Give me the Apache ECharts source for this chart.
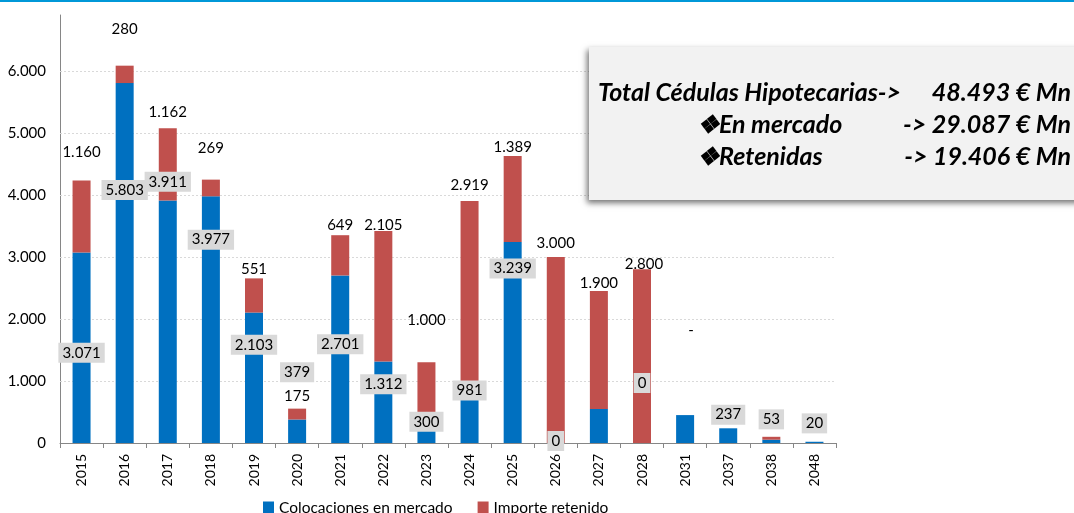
<!DOCTYPE html>
<html>
<head>
<meta charset="utf-8">
<script src="https://cdn.jsdelivr.net/npm/echarts@6/dist/echarts.min.js"></script>
<style>
  html, body { margin: 0; padding: 0; background: #fff; }
  #chart { width: 1074px; height: 513px; }
</style>
</head>
<body>
<div id="chart"></div>
<script>
  // datos (millones de euros)
  var years = ['2015', '2016', '2017', '2018', '2019', '2020', '2021', '2022', '2023', '2024', '2025', '2026', '2027', '2028', '2031', '2037', '2038', '2048']
  var mercado = [3071, 5803, 3911, 3977, 2103, 379, 2701, 1312, 300, 981, 3239, 0, 550, 0, 450, 237, 53, 20]
  var retenido = [1160, 280, 1162, 269, 551, 175, 649, 2105, 1000, 2919, 1389, 3000, 1900, 2800, 0, null, 47, null]
  var yTicks = [1000, 2000, 3000, 4000, 5000, 6000]
  var seriesNames = ['Colocaciones en mercado', 'Importe retenido']
  var boxLines = [
    ['Total Cédulas Hipotecarias->', '48.493 € Mn'],
    ['❖En mercado', '-> 29.087 € Mn'],
    ['❖Retenidas', '-> 19.406 € Mn']
  ]

  // desplazamiento de las etiquetas (como en el original, movidas a mano); null = etiqueta oculta
  var mercadoLabelShift = [[0, 5], [0, -73], [0, -140], [0, -80], [0, -33], [0, -59], [0, -15], [0, -18], [0, -12], [0, -22], [0, -74], [0, -2], null, [0, -60], null, [0, -21], [0, -22], [0, -19]]
  var retenidoLabelShift = [[0, -20], [0, -29], [0, -8], [0, -23], [0, -1], [0, -4], [0, -2], [0, 2], [0, -34], [0, -8], [0, -1], [0, -6], [0, 0], [2, 3], [6, -77], null, null, null]

  var FONT = 'Lato, "Noto Sans", sans-serif'

  function miles (v) {
    return String(v).replace(/\B(?=(\d{3})+(?!\d))/g, '.')
  }

  function buildData (values, shifts) {
    var out = []
    for (var i = 0; i < values.length; i++) {
      var shift = shifts[i]
      out.push({
        value: values[i],
        label: shift ? { show: true, offset: shift } : { show: false }
      })
    }
    return out
  }

  var gridLines = []
  for (var t = 0; t < yTicks.length; t++) {
    gridLines.push({ yAxis: yTicks[t] })
  }

  var chart = echarts.init(document.getElementById('chart'), null, { renderer: 'canvas' })

  var graphics = [
    { type: 'rect', shape: { x: 0, y: 0, width: 1074, height: 2 }, style: { fill: '#0098d8' }, z: 100 },
    {
      type: 'rect',
      shape: { x: 589, y: 47, width: 500, height: 153 },
      style: { fill: '#f2f2f2', shadowColor: 'rgba(0,0,0,0.55)', shadowBlur: 6, shadowOffsetX: -2, shadowOffsetY: 3 },
      z: 100
    }
  ]
  var lineY = [93, 125, 157]
  var leftX = [598, 697, 697]
  for (var k = 0; k < boxLines.length; k++) {
    graphics.push({
      type: 'text', z: 101,
      style: { text: boxLines[k][0], x: leftX[k], y: lineY[k], fill: '#000', font: 'italic bold 25px ' + FONT, align: 'left', verticalAlign: 'middle' }
    })
    graphics.push({
      type: 'text', z: 101,
      style: { text: boxLines[k][1], x: 1071, y: lineY[k], fill: '#000', font: 'italic bold 25px ' + FONT, align: 'right', verticalAlign: 'middle' }
    })
  }

  var option = {
    animation: false,
    textStyle: { fontFamily: FONT },
    grid: { left: 60, right: 238, top: 15, bottom: 70 },
    legend: {
      data: seriesNames,
      left: 258,
      top: 495,
      itemWidth: 11,
      itemHeight: 13,
      itemGap: 25,
      icon: 'rect',
      textStyle: { fontSize: 15.5, color: '#000', fontFamily: FONT }
    },
    xAxis: {
      type: 'category',
      data: years,
      axisLine: { lineStyle: { color: '#868686' } },
      axisTick: { show: true, length: 5, lineStyle: { color: '#868686' } },
      axisLabel: { rotate: 90, fontSize: 14, color: '#000', margin: 11, fontFamily: FONT }
    },
    yAxis: {
      type: 'value',
      min: 0,
      max: 6900,
      interval: 1000,
      axisLine: { show: true, lineStyle: { color: '#868686' } },
      axisTick: { show: false },
      splitLine: { show: false },
      axisLabel: {
        fontSize: 15,
        color: '#000',
        margin: 14,
        fontFamily: FONT,
        formatter: function (v) { return v % 1000 === 0 ? miles(v) : '' }
      }
    },
    series: [
      {
        name: seriesNames[0],
        type: 'bar',
        stack: 'total',
        barWidth: 18,
        itemStyle: { color: '#0070c0' },
        data: buildData(mercado, mercadoLabelShift),
        label: {
          position: 'inside',
          color: '#000',
          fontSize: 15,
          lineHeight: 16,
          fontFamily: FONT,
          backgroundColor: '#d9d9d9',
          padding: [2, 4, 2, 4],
          formatter: function (p) { return miles(p.value) }
        },
        markLine: {
          silent: true,
          z: 1,
          symbol: 'none',
          label: { show: false },
          lineStyle: { color: '#d9d9d9', type: [2, 2], width: 1 },
          data: gridLines
        }
      },
      {
        name: seriesNames[1],
        type: 'bar',
        stack: 'total',
        barWidth: 18,
        itemStyle: { color: '#c0504d' },
        data: buildData(retenido, retenidoLabelShift),
        label: {
          position: 'top',
          distance: 0,
          color: '#000',
          fontSize: 15,
          lineHeight: 16,
          fontFamily: FONT,
          formatter: function (p) { return p.value === 0 ? '-' : miles(p.value) }
        }
      }
    ],
    graphic: graphics
  }

  chart.setOption(option)
</script>
</body>
</html>
